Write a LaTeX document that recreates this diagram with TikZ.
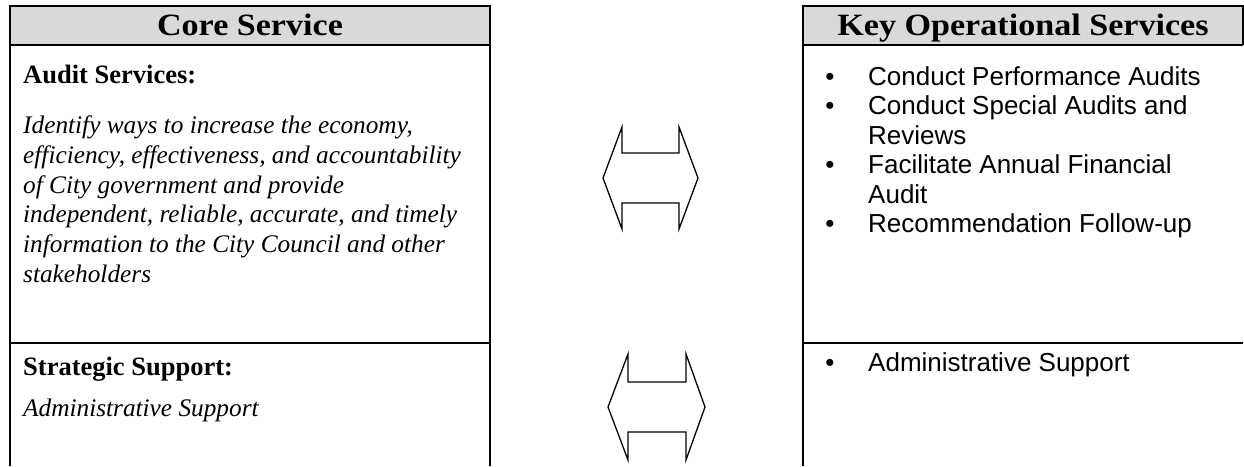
\documentclass[tikz,border=0pt]{standalone}
\usepackage{fontspec}
\setmainfont{Liberation Serif}
\newfontfamily\hdfont[FakeStretch=1.1]{Liberation Serif}
\newfontfamily\arialfont{Liberation Sans}
\definecolor{hdrgray}{HTML}{D9D9D9}
\begin{document}
\begin{tikzpicture}[x=1pt,y=-1pt,
  frame/.style={line width=2pt},
  hdr/.style={anchor=base, inner sep=0pt, font=\hdfont\bfseries\fontsize{31}{36}\selectfont},
  ttl/.style={anchor=base west, inner sep=0pt, font=\bfseries\fontsize{26.5}{30}\selectfont},
  itl/.style={anchor=base west, inner sep=0pt, font=\itshape\fontsize{25.3}{30}\selectfont},
  bul/.style={anchor=base, inner sep=0pt, font=\arialfont\fontsize{26}{30}\selectfont},
  itm/.style={anchor=base west, inner sep=0pt, font=\arialfont\fontsize{26}{30}\selectfont},
  dblarrow/.style={line width=1.3pt, line join=miter}]
\useasboundingbox (0,0) rectangle (1244,466);
% left table
\fill[hdrgray] (10,6) rectangle (490,45);
\draw[frame] (10,466) -- (10,6) -- (490,6) -- (490,466);
\draw[frame] (10,45) -- (490,45);
\draw[frame] (10,343) -- (490,343);
% right table
\fill[hdrgray] (803,6) rectangle (1243,45);
\draw[frame] (803,466) -- (803,6) -- (1243,6) -- (1243,45);
\draw[frame] (803,45) -- (1243,45);
\draw[frame] (803,343) -- (1243,343);
% arrows
\draw[dblarrow] (603,178) -- (622,127) -- (622,153) -- (679,153) -- (679,127) -- (698,178) -- (679,229) -- (679,203) -- (622,203) -- (622,229) -- cycle;
\draw[dblarrow] (608,407) -- (628,354) -- (628,382) -- (686,382) -- (686,354) -- (705,407) -- (686,460) -- (686,432) -- (628,432) -- (628,460) -- cycle;
% left texts
\node[hdr] (h1) at (250,35) {Core Service};
\node[ttl] (t1) at (23,83) {Audit Services:};
\node[itl] (d1a) at (23,133) {Identify ways to increase the economy,};
\node[itl] (d1b) at (23,163) {efficiency, effectiveness, and accountability};
\node[itl] (d1c) at (23,193) {of City government and provide};
\node[itl] (d1d) at (23,222) {independent, reliable, accurate, and timely};
\node[itl] (d1e) at (23,252) {information to the City Council and other};
\node[itl] (d1f) at (23,282) {stakeholders};
\node[ttl] (t2) at (23,375) {Strategic Support:};
\node[itl] (d2) at (23,416) {Administrative Support};
% right texts
\node[hdr] (h2) at (1023,35) {Key Operational Services};
\node[bul] (b1) at (830,85) {•};
\node[itm] (i1) at (868,85) {Conduct Performance Audits};
\node[bul] (b2) at (830,114.5) {•};
\node[itm] (i2a) at (868,114.5) {Conduct Special Audits and};
\node[itm] (i2b) at (868,144) {Reviews};
\node[bul] (b3) at (830,173.5) {•};
\node[itm] (i3a) at (868,173.5) {Facilitate Annual Financial};
\node[itm] (i3b) at (868,203) {Audit};
\node[bul] (b4) at (830,232.5) {•};
\node[itm] (i4) at (868,232.5) {Recommendation Follow-up};
\node[bul] (b5) at (830,371) {•};
\node[itm] (i5) at (868,371) {Administrative Support};
\end{tikzpicture}
\end{document}
